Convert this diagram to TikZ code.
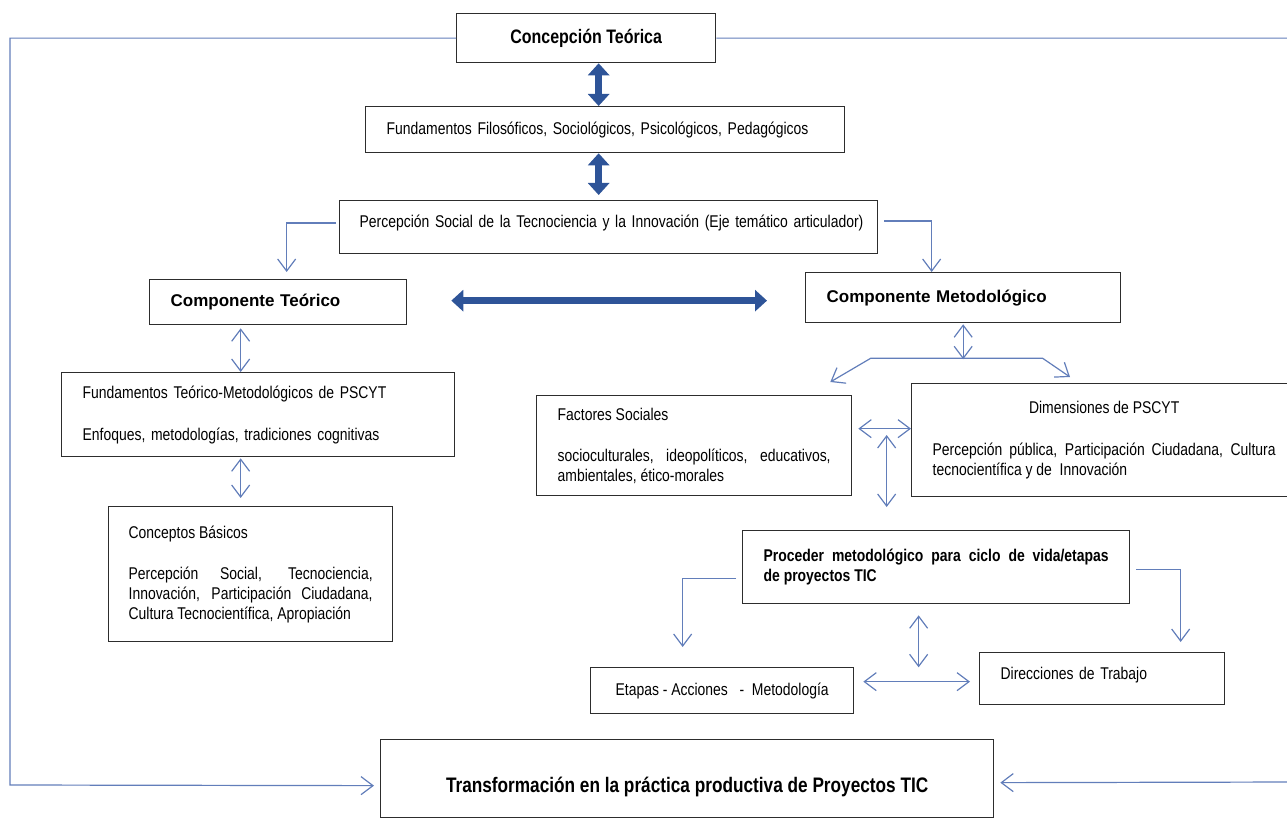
\documentclass[tikz,border=0pt]{standalone}
\usepackage{fontspec}
\setmainfont{Liberation Sans}
\newfontfamily\narfam[FakeStretch=0.82]{Liberation Sans}
\usetikzlibrary{arrows.meta,calc}
\definecolor{thinc}{RGB}{98,126,186}
\definecolor{thickc}{RGB}{46,84,152}
\definecolor{boxc}{RGB}{45,45,45}
\newcommand\fNar{\narfam\fontsize{17}{20}\selectfont}
\newcommand\fNarB{\narfam\bfseries\fontsize{17}{20}\selectfont}
\newcommand\fAriB{\normalfont\bfseries\fontsize{17}{20}\selectfont}
\newcommand\fConc{\narfam\bfseries\fontsize{19.5}{22}\selectfont}
\newcommand\fTrans{\narfam\bfseries\fontsize{21}{24}\selectfont}
\begin{document}
\begin{tikzpicture}[x=1pt,y=-1pt,
  mybox/.style={draw=boxc, line width=1.3pt, anchor=north west, inner ysep=1pt,
    execute at begin node=\setlength{\parindent}{0pt}},
  conn/.style={draw=thinc, line width=1.2pt},
  sarr/.style={-{Straight Barb[length=12pt,width=18pt]}},
  dsarr/.style={{Straight Barb[length=12pt,width=18pt]}-{Straight Barb[length=12pt,width=18pt]}},
  thickarr/.style={draw=thickc, line width=7pt, {Triangle[length=12pt,width=21pt]}-{Triangle[length=12pt,width=21pt]}}]
\useasboundingbox (0,0) rectangle (1287,818);

% boxes
\node[mybox, minimum width=259pt, minimum height=49pt, font=\fConc] (conc) at (456,13) {Concepción Teórica};
\node[mybox, minimum width=479pt, minimum height=46pt, text width=437pt, inner xsep=21pt, align=left, font=\fNar] (fundf) at (365,106) {Fundamentos Filosóficos, Sociológicos, Psicológicos, Pedagógicos};
\node[mybox, minimum width=538pt, minimum height=53pt, text width=498pt, inner xsep=20pt, align=left, font=\fNar] (perc) at (339,200) {\raisebox{4.5pt}[13pt][4pt]{Percepción Social de la Tecnociencia y la Innovación (Eje temático articulador)}};
\node[mybox, minimum width=257pt, minimum height=45pt, text width=215pt, inner xsep=21pt, align=left, font=\fAriB] (compt) at (149,279) {Componente Teórico};
\node[mybox, minimum width=315pt, minimum height=50pt, text width=273pt, inner xsep=21pt, align=left, font=\fAriB] (compm) at (805,272) {Componente Metodológico};
\node[mybox, minimum width=393pt, minimum height=84pt, text width=351pt, inner xsep=21pt, align=left, font=\fNar] (fundtm) at (61,372) {Fundamentos Teórico-Metodológicos de PSCYT\\[22pt]Enfoques, metodologías, tradiciones cognitivas};
\node[mybox, minimum width=284pt, minimum height=135pt, text width=244pt, inner xsep=20pt, align=justify, font=\fNar] (concb) at (108,506) {Conceptos Básicos\\[21pt]Percepción Social, Tecnociencia,\linebreak Innovación, Participación Ciudadana,\linebreak Cultura Tecnocientífica, Apropiación};
\node[mybox, minimum width=315pt, minimum height=100pt, text width=273pt, inner xsep=21pt, align=justify, font=\fNar] (facs) at (536,395) {Factores Sociales\\[21pt]socioculturales, ideopolíticos, educativos,\linebreak ambientales, ético-morales};
\node[mybox, minimum width=385pt, minimum height=113pt, text width=343pt, inner xsep=21pt, align=justify, font=\fNar] (dims) at (911,383) {\hfill Dimensiones de PSCYT\hfill\null\\[22pt]Percepción pública, Participación Ciudadana, Cultura\linebreak tecnocientífica y de\ \ Innovación};
\node[mybox, minimum width=387pt, minimum height=73pt, text width=345pt, inner xsep=21pt, align=justify, font=\fNarB] (proc) at (742,530) {Proceder metodológico para ciclo de vida/etapas\linebreak de proyectos TIC};
\node[mybox, minimum width=263pt, minimum height=46pt, font=\fNar] (etapas) at (590,667) {Etapas\ -\ Acciones\ \ \ -\ \ Metodología};
\node[mybox, minimum width=245pt, minimum height=52pt, text width=203pt, inner xsep=21pt, align=left, font=\fNar] (direcc) at (979,652) {\raisebox{4pt}[13pt][4pt]{Direcciones de Trabajo}};
\node[mybox, minimum width=613pt, minimum height=78pt, font=\fTrans] (trans) at (380,739) {\raisebox{-9pt}[15pt][5pt]{Transformación en la práctica productiva de Proyectos TIC}};

% outer feedback lines
\coordinate (lcorner) at (10,785);
\coordinate (rcorner) at (1295,782);
\draw[conn, sarr] (conc.west) -| (lcorner) -- ($(trans.west)+(-6,7)$);
\draw[conn, sarr] (conc.east) -| (rcorner) -- ($(trans.east)+(6,4)$);

% thick arrows
\draw[thickarr] ($(conc.south)+(12.5,0)$) -- ($(fundf.north)+(-6.5,0)$);
\draw[thickarr] ($(fundf.south)+(-6.5,0)$) -- ($(perc.north)+(-10,-5)$);
\draw[thickarr] ($(compt.east)+(44,-1.5)$) -- ($(compm.west)+(-38,3)$);

% perc to components
\draw[conn, sarr] ($(perc.north west)+(-3,23)$) -| ($(compt.north)+(8.5,-7)$);
\draw[conn, sarr] ($(perc.north east)+(6,21)$) -| ($(compm.north)+(-31.5,0)$);

% left column
\draw[conn, dsarr] ($(compt.south)+(-37.5,3)$) -- ($(fundtm.north)+(-17.5,0)$);
\draw[conn, dsarr] ($(fundtm.south)+(-17.5,1)$) -- ($(concb.north)+(-10,-8)$);

% methodological branch
\draw[conn, dsarr] ($(compm.south)+(0,1)$) -- ($(compm.south)+(0,36)$);
\draw[conn, sarr] ($(compm.south)+(0,35)$) -- ($(compm.south)+(-92.5,35)$) -- ($(facs.north east)+(-22,-13)$);
\draw[conn, sarr] ($(compm.south)+(0,35)$) -- ($(compm.south)+(79.5,35)$) -- ($(dims.north west)+(159,-6)$);
\draw[conn, dsarr] ($(facs.east)+(6,-17)$) -- ($(dims.west)+(0,-11.5)$);
\draw[conn, dsarr] ($(proc.north)+(-49.5,-95)$) -- ($(proc.north)+(-49.5,-23)$);

% proceder outputs
\draw[conn, sarr] ($(proc.west)+(-6,11.5)$) -| ($(etapas.north)+(-39.5,-20)$);
\draw[conn, sarr] ($(proc.east)+(6,2)$) -| ($(direcc.north)+(78.5,-10)$);
\draw[conn, dsarr] ($(proc.south)+(-17.5,11)$) -- ($(proc.south)+(-17.5,63)$);
\draw[conn, dsarr] ($(etapas.east)+(9,-9)$) -- ($(direcc.west)+(-9,3)$);
\end{tikzpicture}
\end{document}
